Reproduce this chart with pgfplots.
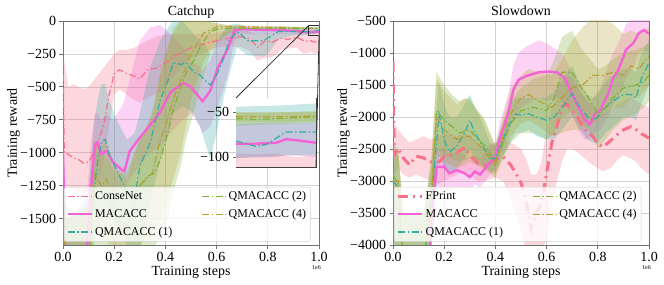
\documentclass[border=0pt]{standalone}
\usepackage{fontspec}
\setmainfont{Liberation Serif}
\usepackage{pgfplots}
\usepackage{pgfplotstable}
\pgfplotsset{compat=1.18}
\usepgfplotslibrary{fillbetween}

\definecolor{cCN}{HTML}{F77189}
\definecolor{cMA}{HTML}{F462D6}
\definecolor{cQa}{HTML}{36ADA4}
\definecolor{cQb}{HTML}{80B13A}
\definecolor{cQd}{HTML}{B8A035}
\definecolor{spine}{HTML}{707070}
\newcommand{\fA}{\fontsize{14}{16.8}\selectfont}
\newcommand{\fL}{\fontsize{12}{14.4}\selectfont}
\newcommand{\fS}{\fontsize{6}{7}\selectfont}

% ---------------- Catchup ----------------
\pgfplotstableread{
x m lo hi
0.000 -300 -1000 -200
0.005 -1000 -1300 -300
0.02 -1010 -1250 -500
0.04 -1040 -1280 -480
0.06 -1050 -1300 -500
0.08 -1080 -1300 -520
0.10 -1070 -1300 -500
0.12 -1000 -1250 -450
0.14 -900 -1200 -400
0.16 -780 -1050 -350
0.18 -560 -800 -300
0.20 -400 -560 -250
0.22 -370 -520 -220
0.25 -400 -560 -220
0.28 -420 -600 -200
0.30 -440 -620 -180
0.33 -370 -580 -150
0.36 -360 -560 -120
0.40 -320 -500 -100
0.44 -260 -400 -100
0.48 -220 -300 -100
0.52 -190 -270 -100
0.56 -170 -230 -100
0.60 -150 -200 -90
0.65 -130 -190 -80
0.70 -120 -200 -70
0.73 -135 -230 -80
0.76 -200 -300 -100
0.79 -150 -280 -90
0.82 -160 -270 -100
0.85 -130 -220 -90
0.88 -140 -210 -95
0.91 -120 -200 -90
0.94 -150 -250 -95
0.96 -155 -240 -96
0.97 -150 -230 -97
0.98 -160 -250 -96
0.99 -158 -245 -100
1.00 -160 -250 -98
}\CNL
\pgfplotstableread{
x m lo hi
0.000 -1000 -1500 -600
0.01 -1900 -2200 -1500
0.05 -1900 -2200 -1500
0.09 -1800 -2100 -1400
0.11 -1250 -1600 -900
0.125 -940 -1300 -700
0.135 -920 -1250 -700
0.15 -1010 -1300 -750
0.17 -985 -1250 -700
0.195 -1070 -1300 -750
0.23 -1130 -1250 -650
0.24 -1140 -1280 -600
0.26 -990 -1200 -450
0.30 -885 -1100 -150
0.34 -790 -1000 -50
0.38 -690 -950 -30
0.42 -540 -850 -100
0.47 -470 -750 -200
0.50 -500 -700 -300
0.535 -585 -800 -350
0.545 -610 -850 -380
0.575 -530 -800 -300
0.605 -355 -650 -150
0.645 -205 -400 -50
0.67 -70 -150 -40
0.70 -62 -100 -40
0.75 -65 -100 -45
0.80 -68 -100 -50
0.85 -70 -100 -55
0.90 -75 -100 -60
0.94 -82 -100 -62
0.96 -85 -101 -63
0.97 -85 -100 -62
0.98 -84 -100 -62
0.985 -80 -98 -62
0.99 -81 -98 -62
1.00 -84 -100 -62
}\MAL
\pgfplotstableread{
x m lo hi
0.000 -1300 -1900 -900
0.01 -1900 -2200 -1400
0.05 -1900 -2200 -1450
0.10 -1850 -2200 -1300
0.12 -1300 -1700 -800
0.135 -1070 -1600 -600
0.15 -915 -1450 -480
0.165 -900 -1400 -480
0.18 -1010 -1450 -600
0.21 -1130 -1550 -750
0.25 -1300 -1700 -900
0.28 -1350 -1800 -850
0.30 -1100 -1750 -700
0.34 -925 -1400 -350
0.38 -600 -1050 -150
0.41 -450 -850 -50
0.43 -320 -700 0
0.465 -330 -650 0
0.475 -310 -650 -20
0.51 -385 -700 -100
0.535 -410 -800 -150
0.56 -460 -950 -200
0.575 -485 -1050 -250
0.60 -410 -850 -150
0.625 -295 -600 -80
0.65 -145 -400 -30
0.68 -80 -200 -20
0.70 -110 -230 -30
0.72 -150 -260 -50
0.78 -150 -270 -50
0.80 -130 -250 -50
0.84 -80 -140 -40
0.90 -80 -110 -45
0.95 -82 -105 -45
0.96 -82 -101 -44
0.97 -88 -100 -43
0.975 -86 -100 -43
0.985 -72 -98 -42
1.00 -72 -98 -40
}\QaL
\pgfplotstableread{
x m lo hi
0.000 -1200 -1800 -900
0.01 -1900 -2200 -1500
0.10 -1900 -2200 -1400
0.12 -1250 -1700 -1000
0.15 -1300 -1750 -1000
0.18 -1350 -1800 -1050
0.20 -1500 -1900 -1150
0.25 -1550 -1900 -1150
0.28 -1400 -1800 -1000
0.30 -1250 -1750 -900
0.33 -1180 -1700 -800
0.36 -1150 -1700 -600
0.38 -1050 -1650 -400
0.41 -850 -1500 -200
0.43 -675 -1300 -50
0.46 -500 -1100 0
0.48 -400 -900 0
0.51 -300 -700 0
0.535 -200 -500 0
0.575 -80 -250 0
0.61 -58 -150 -20
0.65 -58 -100 -40
0.70 -57 -70 -45
0.80 -57 -70 -47
0.90 -57 -68 -48
0.96 -57 -65 -50
0.97 -58 -64 -50
0.98 -57 -63 -50
1.00 -55 -62 -49
}\QbL
\pgfplotstableread{
x m lo hi
0.000 -1150 -1700 -800
0.01 -1900 -2200 -1500
0.10 -1900 -2200 -1400
0.12 -1150 -1600 -900
0.15 -1250 -1650 -950
0.17 -1200 -1650 -900
0.20 -1450 -1800 -1100
0.25 -1600 -1900 -1200
0.28 -1350 -1750 -1000
0.30 -1250 -1700 -900
0.35 -1150 -1600 -700
0.38 -900 -1500 -400
0.40 -800 -1400 -250
0.43 -600 -1200 -100
0.46 -450 -1000 0
0.50 -250 -600 0
0.55 -90 -300 0
0.60 -45 -150 -20
0.65 -42 -80 -30
0.75 -45 -60 -35
0.85 -48 -60 -40
0.96 -55 -60 -50
0.98 -55 -61 -50
1.00 -54 -60 -49
}\QdL

% ---------------- Slowdown ----------------
\pgfplotstableread{
x m lo hi
0.000 -1140 -2600 -1000
0.005 -2590 -2900 -2100
0.02 -2490 -2800 -2200
0.04 -2640 -2900 -2300
0.065 -2750 -2950 -2400
0.09 -2610 -2900 -2350
0.12 -2640 -2950 -2300
0.145 -2700 -3000 -2350
0.18 -2700 -3050 -2300
0.20 -2620 -3000 -2250
0.25 -2560 -2900 -2300
0.28 -2470 -2850 -2250
0.30 -2600 -2900 -2300
0.33 -2720 -3000 -2400
0.36 -2750 -3000 -2450
0.40 -2670 -2950 -2400
0.43 -2620 -3000 -2350
0.46 -2750 -3300 -2400
0.48 -2880 -3500 -2450
0.50 -3030 -3800 -2500
0.52 -3300 -4100 -2650
0.54 -3750 -4200 -2900
0.56 -3500 -4200 -2900
0.58 -3340 -4100 -2700
0.60 -2880 -3900 -2200
0.62 -2410 -3400 -1900
0.64 -2150 -3000 -1600
0.66 -1840 -2700 -1450
0.68 -1800 -2500 -1350
0.70 -1900 -2500 -1400
0.72 -2000 -2550 -1550
0.75 -2200 -2650 -1700
0.78 -2300 -2750 -1850
0.80 -2420 -2800 -1950
0.82 -2470 -2850 -1950
0.85 -2370 -2800 -1900
0.88 -2260 -2650 -1800
0.90 -2200 -2600 -1750
0.93 -2150 -2650 -1700
0.95 -2200 -2700 -1750
0.97 -2260 -2800 -1800
1.00 -2330 -2900 -1850
}\FPR
\pgfplotstableread{
x m lo hi
0.000 -4300 -4500 -4100
0.14 -4300 -4500 -4100
0.155 -3400 -3900 -3000
0.17 -2780 -3100 -2500
0.20 -2780 -3150 -2500
0.22 -2880 -3200 -2600
0.25 -2830 -3100 -2550
0.28 -2880 -3100 -2600
0.30 -2940 -3150 -2650
0.32 -2850 -3050 -2600
0.34 -2900 -3100 -2650
0.37 -2750 -2950 -2500
0.40 -2620 -2800 -2400
0.42 -2310 -2550 -2050
0.45 -1940 -2250 -1650
0.47 -1580 -2000 -1200
0.49 -1420 -1900 -1000
0.52 -1360 -1800 -900
0.57 -1300 -1700 -800
0.60 -1290 -1750 -850
0.64 -1300 -1700 -950
0.67 -1390 -1800 -1050
0.68 -1470 -1850 -1150
0.71 -1730 -2050 -1400
0.73 -1890 -2250 -1550
0.75 -2050 -2350 -1700
0.77 -2110 -2350 -1800
0.79 -1950 -2250 -1650
0.81 -1890 -2200 -1550
0.84 -1640 -2000 -1200
0.86 -1390 -1800 -1000
0.88 -1270 -1700 -850
0.91 -950 -1400 -550
0.94 -840 -1200 -450
0.96 -690 -1000 -400
0.98 -640 -950 -400
1.00 -700 -1000 -450
}\MAR
\pgfplotstableread{
x m lo hi
0.000 -3000 -4200 -2500
0.02 -3100 -4300 -2600
0.04 -4300 -4500 -3500
0.12 -4300 -4500 -3500
0.15 -3300 -4000 -2800
0.18 -1950 -2600 -1450
0.20 -2350 -2800 -1800
0.22 -2550 -2900 -2000
0.25 -2450 -2800 -2000
0.28 -2250 -2650 -1800
0.30 -2050 -2500 -1650
0.32 -2250 -2650 -1850
0.35 -2450 -2750 -2100
0.38 -2650 -2850 -2400
0.40 -2650 -2850 -2450
0.43 -2350 -2600 -2100
0.45 -2150 -2450 -1850
0.48 -1950 -2250 -1700
0.50 -1970 -2250 -1700
0.53 -1950 -2200 -1700
0.56 -2000 -2300 -1700
0.60 -2050 -2350 -1700
0.63 -2000 -2350 -1600
0.66 -1850 -2200 -1400
0.70 -1630 -2000 -1200
0.73 -1850 -2200 -1500
0.76 -2000 -2350 -1650
0.78 -2050 -2400 -1700
0.80 -2000 -2400 -1650
0.83 -1850 -2250 -1450
0.86 -1750 -2150 -1350
0.90 -1650 -2000 -1250
0.93 -1650 -2000 -1250
0.95 -1700 -2050 -1300
0.97 -1400 -1800 -1000
1.00 -1150 -1500 -800
}\QaR
\pgfplotstableread{
x m lo hi
0.000 -2900 -4200 -2400
0.02 -3050 -4300 -2500
0.04 -4300 -4500 -3500
0.12 -4300 -4500 -3500
0.15 -3300 -4000 -2700
0.17 -1900 -2500 -1300
0.20 -2050 -2600 -1500
0.23 -2150 -2650 -1650
0.26 -2250 -2700 -1750
0.30 -2200 -2650 -1700
0.33 -2350 -2750 -1900
0.36 -2450 -2800 -2050
0.40 -2700 -2900 -2450
0.43 -2400 -2650 -2100
0.46 -2100 -2400 -1750
0.50 -1900 -2250 -1550
0.55 -1850 -2250 -1400
0.60 -1900 -2350 -1350
0.63 -1700 -2250 -1100
0.66 -1300 -2000 -750
0.70 -1300 -1900 -650
0.73 -1500 -2000 -900
0.77 -1750 -2250 -1100
0.80 -1950 -2500 -1250
0.83 -1850 -2350 -1200
0.86 -1700 -2200 -1100
0.90 -1550 -2050 -1000
0.95 -1500 -1950 -950
0.98 -1450 -1850 -900
1.00 -1350 -1750 -850
}\QbR
\pgfplotstableread{
x m lo hi
0.000 -3000 -4200 -2500
0.02 -3000 -4300 -2500
0.04 -4300 -4500 -3500
0.12 -4300 -4500 -3500
0.15 -3200 -4000 -2600
0.17 -2000 -2600 -1400
0.20 -2200 -2700 -1600
0.25 -2350 -2800 -1800
0.28 -2300 -2750 -1700
0.30 -2300 -2700 -1750
0.35 -2500 -2800 -2000
0.40 -2750 -2950 -2450
0.43 -2300 -2600 -2000
0.46 -1950 -2300 -1550
0.50 -1700 -2100 -1350
0.53 -1650 -2050 -1250
0.57 -1750 -2150 -1300
0.62 -1850 -2300 -1350
0.66 -1700 -2250 -1100
0.70 -1550 -2200 -800
0.74 -1500 -2200 -600
0.78 -1350 -2100 -450
0.82 -1350 -2000 -450
0.86 -1300 -1850 -550
0.90 -1350 -1850 -700
0.93 -1200 -1700 -650
0.96 -1250 -1700 -700
1.00 -1050 -1500 -600
}\QdR

\newcommand{\band}[3]{%
  \addplot[name path=#3h, draw=none, forget plot] table[x=x,y=hi]{#1};
  \addplot[name path=#3l, draw=none, forget plot] table[x=x,y=lo]{#1};
  \addplot[fill=#2, fill opacity=0.28, draw=none, forget plot] fill between[of=#3h and #3l];
}

\pgfplotsset{
  base/.style={
    scale only axis, width=256bp, height=224bp,
    xmin=0, xmax=1,
    axis line style={spine, line width=0.8bp},
    tick style={spine, line width=0.8bp},
    tick align=outside, major tick length=3.5bp,
    xtick pos=left, ytick pos=left,
    grid=major, grid style={black!18, line width=0.7bp},
    xticklabel style={font=\fA},
    yticklabel style={font=\fA},
    xtick={0,0.2,0.4,0.6,0.8,1.0},
    xticklabels={\fA 0.0,\fA 0.2,\fA 0.4,\fA 0.6,\fA 0.8,\fA 1.0},
    xlabel={\fA Training steps}, ylabel={\fA Training reward},
    every axis x label/.style={at={(axis description cs:0.5,0)}, anchor=base, yshift=-30bp, font=\fA},
    every axis y label/.style={at={(axis description cs:-0.18,0.5)}, rotate=90, anchor=base, font=\fA},
    every axis title/.style={at={(axis description cs:0.5,1)}, anchor=base, yshift=5bp, font=\fA},
    legend cell align=left,
    legend columns=2,
    legend image code/.code={\draw[##1] (0bp,0bp) -- (24bp,0bp);},
    legend style={at={(0.004,0.015)}, anchor=south west,
      draw=black!18, rounded corners=2bp, fill=white, fill opacity=0.8, text opacity=1,
      font=\fL, inner sep=2.5bp, row sep=4bp,
      /tikz/every even column/.append style={column sep=27bp}},
  },
  thin dd/.style={line width=1.2bp, dash pattern=on 7bp off 2.5bp on 1.5bp off 2.5bp},
}

\begin{document}
\begin{tikzpicture}
% ===== Catchup =====
\begin{axis}[base, title={\fA Catchup}, ymin=-1700, ymax=0,
  ytick={-1500,-1250,-1000,-750,-500,-250,0},
  yticklabels={\fA −1500,\fA −1250,\fA −1000,\fA −750,\fA −500,\fA −250,\fA 0}]
\band{\CNL}{cCN}{a}
\band{\MAL}{cMA}{b}
\band{\QaL}{cQa}{c}
\band{\QbL}{cQb}{d}
\band{\QdL}{cQd}{e}
\addplot[cCN, thin dd, forget plot] table[x=x,y=m]{\CNL};
\addplot[cMA, line width=2.4bp, forget plot] table[x=x,y=m]{\MAL};
\addplot[cQa, thin dd, forget plot] table[x=x,y=m]{\QaL};
\addplot[cQb, thin dd, forget plot] table[x=x,y=m]{\QbL};
\addplot[cQd, thin dd, forget plot] table[x=x,y=m]{\QdL};
\addlegendimage{cCN, thin dd}\addlegendentry{\fL ConseNet}
\addlegendimage{cQb, thin dd}\addlegendentry{\fL QMACACC (2)}
\addlegendimage{cMA, line width=2.4bp}\addlegendentry{\fL MACACC}
\addlegendimage{cQd, thin dd}\addlegendentry{\fL QMACACC (4)}
\addlegendimage{cQa, thin dd}\addlegendentry{\fL QMACACC (1)}
\draw[black!80, line width=0.8bp] (axis cs:0.96,-111) rectangle (axis cs:1.0,-34);
\coordinate (rTL) at (axis cs:0.96,-34);
\coordinate (rBR) at (axis cs:1.0,-111);
\end{axis}
\node[anchor=center, inner sep=0pt] at (253.5bp,-23bp) {\fS 1e6};

% ===== inset =====
\begin{pgfonlayer}{pre main}
\fill[white] (173.4bp,78.4bp) rectangle (252.6bp,146.6bp);
\end{pgfonlayer}
\begin{axis}[name=ins, at={(173bp,78bp)}, anchor=south west,
  scale only axis, width=80bp, height=69bp,
  xmin=0.96, xmax=1.0, ymin=-111, ymax=-34,
  restrict x to domain=0.955:1.01,
  axis line style={black!75, line width=0.8bp},
  tick style={spine, line width=0.8bp},
  tick align=outside, major tick length=3.5bp,
  xtick=\empty, ytick pos=left,
  ytick={-100,-50}, yticklabels={\fA −100,\fA −50},
  yticklabel style={font=\fA}]
\band{\CNL}{cCN}{f}
\band{\MAL}{cMA}{g}
\band{\QaL}{cQa}{h}
\band{\QbL}{cQb}{i}
\band{\QdL}{cQd}{j}
\addplot[cCN, thin dd] table[x=x,y=m]{\CNL};
\addplot[cMA, line width=2.4bp] table[x=x,y=m]{\MAL};
\addplot[cQa, thin dd] table[x=x,y=m]{\QaL};
\addplot[cQb, thin dd] table[x=x,y=m]{\QbL};
\addplot[cQd, thin dd] table[x=x,y=m]{\QdL};
\end{axis}
\draw[black!80, line width=0.8bp] (rTL) -- (ins.north west);
\draw[black!80, line width=0.8bp] (rBR) -- (ins.south east);

% ===== Slowdown =====
\begin{axis}[base, at={(330bp,0bp)}, title={\fA Slowdown}, ymin=-4000, ymax=-500,
  ytick={-4000,-3500,-3000,-2500,-2000,-1500,-1000,-500},
  yticklabels={\fA −4000,\fA −3500,\fA −3000,\fA −2500,\fA −2000,\fA −1500,\fA −1000,\fA −500}]
\band{\FPR}{cCN}{k}
\band{\MAR}{cMA}{l}
\band{\QaR}{cQa}{m}
\band{\QbR}{cQb}{n}
\band{\QdR}{cQd}{o}
\addplot[cCN, line width=3bp, dash pattern=on 10bp off 5bp on 2bp off 5bp, forget plot] table[x=x,y=m]{\FPR};
\addplot[cMA, line width=2.4bp, forget plot] table[x=x,y=m]{\MAR};
\addplot[cQa, thin dd, forget plot] table[x=x,y=m]{\QaR};
\addplot[cQb, thin dd, forget plot] table[x=x,y=m]{\QbR};
\addplot[cQd, thin dd, forget plot] table[x=x,y=m]{\QdR};
\addlegendimage{cCN, line width=3bp, dash pattern=on 10bp off 5bp on 2bp off 5bp}\addlegendentry{\fL FPrint}
\addlegendimage{cQb, thin dd}\addlegendentry{\fL QMACACC (2)}
\addlegendimage{cMA, line width=2.4bp}\addlegendentry{\fL MACACC}
\addlegendimage{cQd, thin dd}\addlegendentry{\fL QMACACC (4)}
\addlegendimage{cQa, thin dd}\addlegendentry{\fL QMACACC (1)}
\end{axis}
\node[anchor=center, inner sep=0pt] at (583.5bp,-23bp) {\fS 1e6};
\pgfresetboundingbox
\path (-63bp,-40bp) rectangle (601bp,245bp);
\end{tikzpicture}
\end{document}
